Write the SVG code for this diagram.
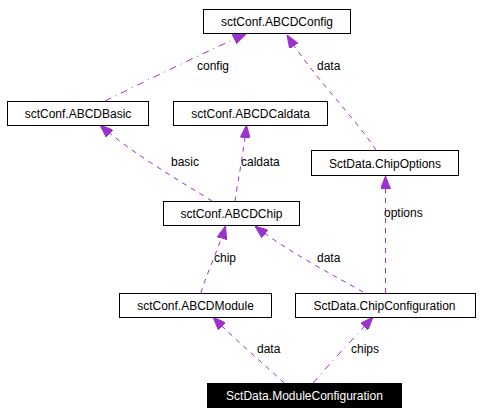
<svg xmlns="http://www.w3.org/2000/svg" width="481" height="415" viewBox="0 0 481 415">
<style>
.box{fill:#fff;stroke:#000;stroke-width:1}
.dark{fill:#000;stroke:#000;stroke-width:1}
.nt{font-family:"Liberation Sans",Arial,sans-serif;font-size:12px;text-anchor:middle;fill:#000}
.nw{fill:#fff}
.e{fill:none;stroke:#9a32cd;stroke-width:1;stroke-dasharray:5,5;marker-end:url(#ah)}
.dd{stroke-dasharray:7,5,1,5}
.lbl{font-family:"Liberation Sans",Arial,sans-serif;font-size:12px;fill:#000}
</style>
<defs>
<marker id="ah" markerUnits="userSpaceOnUse" markerWidth="13" markerHeight="10" viewBox="0 0 13 10" refX="13" refY="5" orient="auto">
<path d="M0,0 L13,5 L0,10 z" fill="#9a32cd" stroke="#9a32cd" stroke-width="1"/>
</marker>
</defs>
<rect width="481" height="415" fill="#fff"/>
<g id="connectors">
<path class="e dd" d="M105,101 C150,79 205,52 246,34"/>
<path class="e" d="M376,150 C355,118 312,75 287,35"/>
<path class="e" d="M212,201 C180,181 130,152 100,125"/>
<path class="e" d="M235,201 C238,180 244,150 246.5,125"/>
<path class="e" d="M385.5,293 L385.5,176"/>
<path class="e" d="M201,293 C206,275 220,245 225.5,226"/>
<path class="e" d="M363,292 C335,276 285,250 255,226"/>
<path class="e" d="M284,383 C262,362 235,340 213,317"/>
<path class="e dd" d="M313,383 C330,363 352,340 373,317"/>
<text class="lbl" x="197" y="70">config</text>
<text class="lbl" x="317" y="70">data</text>
<text class="lbl" x="171" y="166">basic</text>
<text class="lbl" x="241" y="166">caldata</text>
<text class="lbl" x="384" y="217">options</text>
<text class="lbl" x="214" y="262">chip</text>
<text class="lbl" x="317" y="262">data</text>
<text class="lbl" x="257" y="353">data</text>
<text class="lbl" x="351" y="353">chips</text>
</g>
<g id="ABCDConfig"><rect class="box" x="203.5" y="9.5" width="147" height="24"/><text class="nt" x="277" y="26">sctConf.ABCDConfig</text></g>
<g id="ABCDBasic"><rect class="box" x="7.5" y="101.5" width="141" height="24"/><text class="nt" x="78" y="117.5">sctConf.ABCDBasic</text></g>
<g id="ABCDCaldata"><rect class="box" x="173.5" y="101.5" width="154" height="24"/><text class="nt" x="250.5" y="117.5">sctConf.ABCDCaldata</text></g>
<g id="ChipOptions"><rect class="box" x="311.5" y="150.5" width="147" height="25"/><text class="nt" x="385" y="167.5">SctData.ChipOptions</text></g>
<g id="ABCDChip"><rect class="box" x="163.5" y="201.5" width="136" height="24"/><text class="nt" x="231.5" y="218">sctConf.ABCDChip</text></g>
<g id="ABCDModule"><rect class="box" x="119.5" y="293.5" width="152" height="24"/><text class="nt" x="195.5" y="309.5">sctConf.ABCDModule</text></g>
<g id="ChipConfiguration"><rect class="box" x="295.5" y="293.5" width="180" height="24"/><text class="nt" x="384.5" y="309.5">SctData.ChipConfiguration</text></g>
<g id="ModuleConfiguration"><rect class="dark" x="207.5" y="383.5" width="194" height="24"/><text class="nt nw" x="304.5" y="400">SctData.ModuleConfiguration</text></g>
</svg>
